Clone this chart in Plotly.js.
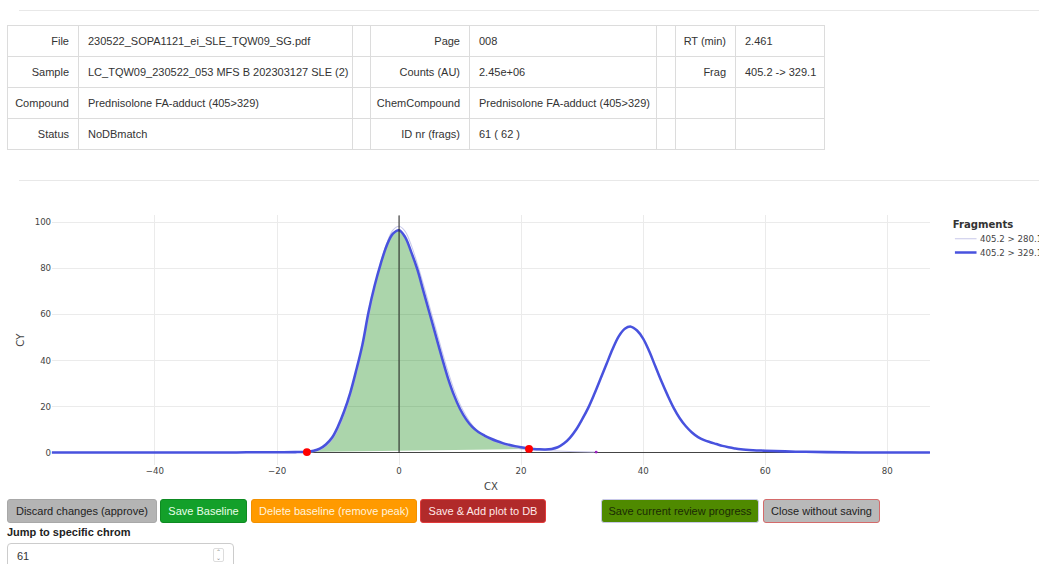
<!DOCTYPE html>
<html>
<head>
<meta charset="utf-8">
<script src="https://cdn.plot.ly/plotly-3.0.1.min.js"></script>
<style>
  html, body { margin:0; padding:0; }
  body { width:1039px; height:564px; overflow:hidden; position:relative; background:#fff;
         font-family:"Liberation Sans", Arial, sans-serif; color:#333; }
  .hr { position:absolute; left:19px; width:1030px; height:0; border-top:1px solid #e8e8e8; }
  #info { position:absolute; left:7px; top:25px; border-collapse:collapse; font-size:11px; }
  #info td { border:1px solid #dcdcdc; height:30px; padding:0; white-space:nowrap; }
  #info td.lab { text-align:right; padding-right:9px; }
  #info td.val { text-align:left; padding-left:9px; }
  #chartwrap { position:absolute; left:0; top:190px; width:1100px; height:310px; overflow:visible; }
  #chart { position:absolute; left:0; top:0; width:1528px; height:431px; transform:scale(0.72); transform-origin:0 0; }
  .btn { position:absolute; top:499px; height:24px; box-sizing:border-box; border:1px solid; border-radius:3px;
         font-size:11px; line-height:22px; text-align:center; white-space:nowrap; }
  #jumplab { position:absolute; left:7px; top:526px; font-size:11px; font-weight:bold; color:#222; }
  #jump { position:absolute; left:7px; top:543px; width:227px; height:26px; box-sizing:border-box;
          border:1px solid #ccc; border-radius:4px; font-size:11px; padding-left:9px; line-height:24px; color:#333; }
  #spin { position:absolute; right:9px; top:4px; width:9px; height:12px; border:1px solid #ddd; border-radius:2px;
          font-size:6px; line-height:6px; color:#888; text-align:center; }
</style>
</head>
<body>
<div class="hr" style="top:10px"></div>
<table id="info"></table>
<div class="hr" style="top:180px"></div>
<div id="chartwrap"><div id="chart"></div></div>
<div id="buttons"></div>
<div id="jumplab">Jump to specific chrom</div>
<div id="jump"><span id="jumpval"></span><div id="spin">&#8963;<br>&#8964;</div></div>

<script>
// ---------- table data ----------
const rowLabelsA = ['File', 'Sample', 'Compound', 'Status'];
const rowValuesA = ['230522_SOPA1121_ei_SLE_TQW09_SG.pdf', 'LC_TQW09_230522_053 MFS B 202303127 SLE (2)',
                    'Prednisolone FA-adduct (405>329)', 'NoDBmatch'];
const rowLabelsB = ['Page', 'Counts (AU)', 'ChemCompound', 'ID nr (frags)'];
const rowValuesB = ['008', '2.45e+06', 'Prednisolone FA-adduct (405>329)', '61 ( 62 )'];
const rowLabelsC = ['RT (min)', 'Frag', '', ''];
const rowValuesC = ['2.461', '405.2 -> 329.1', '', ''];

// ---------- chart data ----------
const fragNames = ['405.2 > 280.1', '405.2 > 329.1'];
const cx329 = [-57, -50, -40, -30, -25, -20, -17, -15, -14, -13, -12, -11, -10, -9, -8, -7, -6, -5, -4, -3, -2, -1, 0,
               1, 2, 3, 4, 5, 6, 7, 8, 9, 10, 11, 12, 13, 14, 15, 16, 17, 18, 19, 20, 21, 22, 23, 24, 25, 26, 27, 28,
               29, 30, 31, 32, 33, 34, 35, 36, 37, 38, 39, 40, 41, 42, 43, 44, 45, 46, 47, 48, 49, 50, 51, 52, 53, 54,
               55, 56, 58, 60, 65, 70, 80, 87];
const cy329 = [0.1, 0.1, 0.1, 0.15, 0.2, 0.25, 0.3, 0.5, 0.9, 1.8, 3.6, 6.5, 11.5, 18, 26, 36, 47, 61, 72.5, 82, 90, 95, 96.5,
               93.5, 87, 79.5, 70, 60.5, 51, 41.5, 32.5, 25, 19, 14.5, 11.2, 9.0, 7.5, 6.2, 5.1, 4.2, 3.5, 2.9, 2.4, 2.0, 1.7,
               1.5, 1.45, 1.7, 2.4, 4, 6.5, 10, 14.5, 19.5, 25.5, 32, 38.5, 45, 50.5, 53.8, 54.7, 53, 49.5, 44, 37.5, 31,
               25, 19.5, 15, 11.5, 8.8, 6.8, 5.5, 4.6, 3.8, 3, 2.4, 1.9, 1.5, 1.1, 0.9, 0.5, 0.3, 0.1, 0.1];
const cx280 = [-57, -50, -40, -30, -20, -16, -14, -13, -12, -11, -10, -9, -8, -7, -6, -5, -4, -3, -2, -1, 0,
               1, 2, 3, 4, 5, 6, 7, 8, 9, 10, 11, 12, 13, 14, 15, 16, 17, 18, 19, 20, 22, 25, 28, 32];
const cy280 = [0.1, 0.1, 0.1, 0.1, 0.15, 0.2, 0.5, 1.2, 2.8, 5.5, 10, 16.5, 24.5, 34.5, 46, 58.5, 71, 82.5, 91, 96.5, 98.2,
               96, 90, 82, 73, 63.5, 54, 44.5, 35.5, 27.5, 21, 16, 12, 9.2, 7.2, 5.7, 4.6, 3.6, 2.8, 2.2, 1.7, 1.2, 0.9, 0.6, 0.3];
const baseX = [-15.1, 21.3];
const baseY = [0.3, 1.7];
const apexMarkX = [32.3];
const apexMarkY = [0.3];
const rtPos = 0;
const xTicks = [-40, -20, 0, 20, 40, 60, 80];
const yTicks = [0, 20, 40, 60, 80, 100];

// ---------- buttons ----------
const btnLabels = ['Discard changes (approve)', 'Save Baseline', 'Delete baseline (remove peak)', 'Save & Add plot to DB',
                   'Save current review progress', 'Close without saving'];
const jumpValue = '61';

// build table
(function () {
  const t = document.getElementById('info');
  const widths = [71, 274, 18, 99, 187, 19, 60, 89];
  let html = '<colgroup>' + widths.map(w => '<col style="width:' + w + 'px">').join('') + '</colgroup>';
  for (let i = 0; i < rowLabelsA.length; i++) {
    html += '<tr><td class="lab">' + rowLabelsA[i] + '</td><td class="val">' + rowValuesA[i] + '</td><td></td>' +
            '<td class="lab">' + rowLabelsB[i] + '</td><td class="val">' + rowValuesB[i] + '</td><td></td>' +
            '<td class="lab">' + rowLabelsC[i] + '</td><td class="val">' + rowValuesC[i] + '</td></tr>';
  }
  t.innerHTML = html;
  t.style.width = widths.reduce((a, b) => a + b, 0) + 'px';
  t.style.tableLayout = 'fixed';
})();

// build buttons
(function () {
  const box = document.getElementById('buttons');
  const styles = [
    {left: 7,   width: 150, bg: '#b4b4b4', bd: '#a8a8a8', fg: '#222'},
    {left: 160, width: 87,  bg: '#13a02a', bd: '#0e8a22', fg: '#e8ffe8'},
    {left: 251, width: 166, bg: '#ff9a00', bd: '#f29000', fg: '#fff3dc'},
    {left: 420, width: 126, bg: '#b12a2a', bd: '#e23a3a', fg: '#ffe8e8'},
    {left: 601, width: 158, bg: '#4f8a00', bd: '#c8c8e8', fg: '#1b2a05'},
    {left: 763, width: 117, bg: '#b9b9b9', bd: '#d46a6a', fg: '#222'}
  ];
  btnLabels.forEach((lab, i) => {
    const s = styles[i];
    const d = document.createElement('div');
    d.className = 'btn';
    d.textContent = lab;
    d.style.left = s.left + 'px';
    d.style.width = s.width + 'px';
    d.style.background = s.bg;
    d.style.borderColor = s.bd;
    d.style.color = s.fg;
    box.appendChild(d);
  });
  document.getElementById('jumpval').textContent = jumpValue;
})();

// build chart
const fillX = [baseX[0]], fillY = [baseY[0]];
cx329.forEach((x, i) => { if (x > baseX[0] && x < baseX[1]) { fillX.push(x); fillY.push(cy329[i]); } });
fillX.push(baseX[1]); fillY.push(baseY[1]);

const traces = [
  {x: fillX, y: fillY, type: 'scatter', mode: 'lines', fill: 'toself', fillcolor: 'rgba(0,128,0,0.33)',
   line: {width: 0}, showlegend: false, hoverinfo: 'skip'},
  {x: cx280, y: cy280, type: 'scatter', mode: 'lines', name: fragNames[0],
   line: {color: 'rgba(185,185,228,0.8)', width: 1.4, shape: 'spline'}},
  {x: cx329, y: cy329, type: 'scatter', mode: 'lines', name: fragNames[1],
   line: {color: 'rgb(72,82,222)', width: 3.5, shape: 'spline'}},
  {x: baseX, y: baseY, type: 'scatter', mode: 'markers', showlegend: false,
   marker: {color: '#ff0000', size: 11}},
  {x: apexMarkX, y: apexMarkY, type: 'scatter', mode: 'markers', showlegend: false,
   marker: {color: '#9b1fc0', size: 4}}
];

const layout = {
  width: 1528, height: 431,
  margin: {l: 72.2, r: 236.3, t: 34.7, b: 49.1},
  paper_bgcolor: 'rgba(0,0,0,0)', plot_bgcolor: '#fff',
  font: {family: '"DejaVu Sans", verdana, arial, sans-serif', size: 12, color: '#444'},
  xaxis: {range: [-56.9, 87.05], tickvals: xTicks, showgrid: true, gridcolor: '#ebebeb', gridwidth: 1.4, zeroline: false,
          showline: false, ticks: '', title: {text: 'CX', font: {size: 14}, standoff: 9}},
  yaxis: {range: [-5.3, 103], tickvals: yTicks, showgrid: true, gridcolor: '#ebebeb', gridwidth: 1.4, zeroline: true,
          zerolinecolor: '#444', zerolinewidth: 1.4, showline: false, ticks: '',
          title: {text: 'CY', font: {size: 14}, standoff: 11}},
  shapes: [{type: 'line', xref: 'x', yref: 'y', x0: rtPos, x1: rtPos, y0: 0, y1: 103,
            line: {color: '#222', width: 1.4}}],
  legend: {x: 1.024, xanchor: 'left', y: 1, yanchor: 'top', font: {size: 12},
           title: {text: '<b>Fragments</b>', font: {size: 14, color: '#333'}}, tracegroupgap: 0},
  showlegend: true
};

Plotly.newPlot('chart', traces, layout, {displayModeBar: false, staticPlot: true});
</script>
</body>
</html>
